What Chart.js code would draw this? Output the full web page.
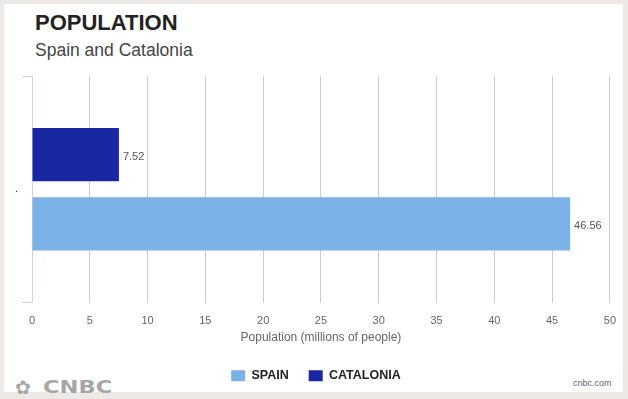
<!DOCTYPE html>
<html>
<head>
<meta charset="utf-8">
<script src="https://cdn.jsdelivr.net/npm/chart.js@4/dist/chart.umd.min.js"></script>
<style>
  html, body { margin: 0; padding: 0; }
  body { width: 628px; height: 399px; background: #ece9e7; position: relative; overflow: hidden; font-family: "Liberation Sans", Arial, sans-serif; }
  #panel { position: absolute; left: 4px; top: 4px; width: 619px; height: 388px; background: #ffffff; }
  #title { position: absolute; left: 35px; top: 10px; font-size: 22px; font-weight: bold; color: #222; }
  #subtitle { position: absolute; left: 35px; top: 40px; font-size: 17.5px; color: #444; }
  #icon { position: absolute; left: 15px; top: 376px; font-size: 19px; color: #a6a6a6; font-family: "DejaVu Sans", sans-serif; }
  #logo { position: absolute; left: 43px; top: 377px; font-size: 17px; font-weight: 900; color: #a6a6a6; font-family: "DejaVu Sans", sans-serif; transform: scaleX(1.33); transform-origin: left top; }
  #site { position: absolute; left: 573px; top: 378px; font-size: 9px; color: #666; }
  #wrap { position: absolute; left: 0; top: 0; width: 628px; height: 399px; }
</style>
</head>
<body>
<div id="panel"></div>
<div id="title">POPULATION</div>
<div id="subtitle">Spain and Catalonia</div>
<div id="icon">✿</div>
<div id="logo">CNBC</div>
<div id="site">cnbc.com</div>
<div id="wrap"><canvas id="c" width="628" height="399"></canvas></div>
<script>
const categories = ['.'];
const spainValues = [46.56];
const cataloniaValues = [7.52];
const seriesNames = ['SPAIN', 'CATALONIA'];
const xAxisTitle = 'Population (millions of people)';

const valueLabels = {
  id: 'valueLabels',
  afterDatasetsDraw(chart) {
    const ctx = chart.ctx;
    ctx.save();
    ctx.font = '11px "Liberation Sans", Arial, sans-serif';
    ctx.fillStyle = '#555';
    ctx.textAlign = 'left';
    ctx.textBaseline = 'middle';
    chart.data.datasets.forEach((ds, i) => {
      chart.getDatasetMeta(i).data.forEach((el, j) => {
        ctx.fillText(ds.data[j].toFixed(2), el.x + 4, el.y + 2);
      });
    });
    ctx.restore();
  }
};

// centre the legend under the plot area rather than the whole canvas
const legendShift = {
  id: 'legendShift',
  afterLayout(chart) {
    const lg = chart.legend;
    if (!lg) return;
    const ca = chart.chartArea;
    const shift = ((ca.left + ca.right) / 2) - ((lg.left + lg.right) / 2) - 5;
    lg.left += shift;
    lg.right += shift;
  }
};

new Chart(document.getElementById('c'), {
  type: 'bar',
  data: {
    labels: categories,
    datasets: [
      { label: seriesNames[1], data: cataloniaValues, backgroundColor: '#1a27a3', borderWidth: 0 },
      { label: seriesNames[0], data: spainValues, backgroundColor: '#7ab2e8', borderWidth: 0 }
    ]
  },
  options: {
    indexAxis: 'y',
    responsive: false,
    animation: false,
    devicePixelRatio: 1,
    categoryPercentage: 0.612,
    barPercentage: 0.77,
    layout: { padding: { left: 4, right: 15, top: 76, bottom: 7 } },
    scales: {
      x: {
        min: 0, max: 50,
        ticks: { stepSize: 5, color: '#666', font: { size: 11, family: '"Liberation Sans", Arial, sans-serif' }, padding: 12 },
        grid: { color: (c) => c.tick && c.tick.value === 0 ? 'rgba(0,0,0,0)' : '#cccccc', drawTicks: false },
        border: { display: false },
        title: { display: true, text: xAxisTitle, color: '#666', font: { size: 12, family: '"Liberation Sans", Arial, sans-serif' }, padding: { top: 0, bottom: 5 } },
        afterFit: (s) => { s.height = 47; }
      },
      y: {
        ticks: { color: '#333', font: { size: 11 }, padding: 4 },
        grid: { drawOnChartArea: false, drawTicks: true, tickLength: 10, color: '#cdd5e5' },
        border: { display: true, color: '#cdd5e5' },
        afterFit: (s) => { s.width = 28; }
      }
    },
    plugins: {
      legend: {
        position: 'bottom',
        reverse: true,
        labels: { boxWidth: 14, boxHeight: 11, color: '#222', padding: 20, font: { size: 12.5, weight: 'bold', family: '"Liberation Sans", Arial, sans-serif' } }
      },
      tooltip: { enabled: false }
    }
  },
  plugins: [valueLabels, legendShift]
});
</script>
</body>
</html>
